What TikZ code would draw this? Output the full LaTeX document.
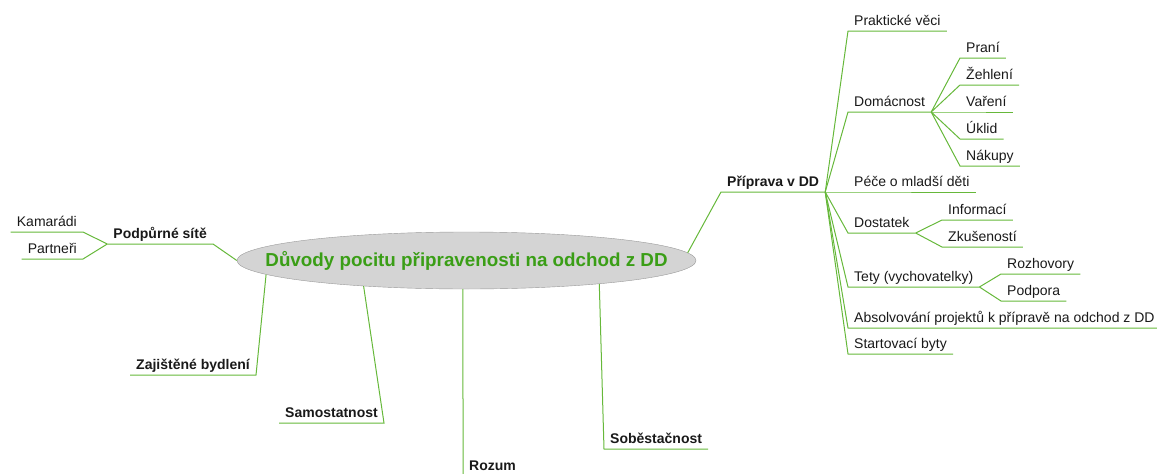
\documentclass[tikz,border=0pt]{standalone}
\usepackage{fontspec}
\setmainfont{Liberation Sans}
\usepackage{tikz}
\usetikzlibrary{positioning,shapes.geometric}
\definecolor{MMgreen}{HTML}{66B83A}
\definecolor{MMtext}{HTML}{3A9E16}
\definecolor{MMgray}{HTML}{D4D4D4}
\tikzset{
  mm/root/.style={draw=black!40, fill=MMgray, ellipse, minimum width=459pt, minimum height=57pt, inner xsep=-39pt, inner ysep=0pt, font=\fontsize{18.8}{22}\selectfont\bfseries, text=MMtext},
  mm/leaf/.style={inner xsep=6pt, inner ysep=5pt, text depth=0pt, font=\fontsize{14}{16}\selectfont, text=black!90},
  mm/main/.style={mm/leaf, font=\fontsize{14}{16}\selectfont\bfseries},
  mm/right/.style={anchor=south west},
  mm/left/.style={anchor=south east},
  mm/line/.style={draw=MMgreen, line width=1pt}
}

\begin{document}
\begin{tikzpicture}[x=1pt, y=-1pt]
\useasboundingbox (0,0) rectangle (1157,474);

\node[mm/root] (root) at (466.5,260.5) {Důvody pocitu připravenosti na odchod z DD};

% Priprava v DD
\node[mm/main, mm/right] (prip) at (721,192) {Příprava v DD};
\node[mm/leaf, mm/right] (prakt) at (848,31) {Praktické věci};
\node[mm/leaf, mm/right] (doma) at (848,112) {Domácnost};
\node[mm/leaf, mm/right] (pece) at (848,192) {Péče o mladší děti};
\node[mm/leaf, mm/right] (dost) at (848,233) {Dostatek};
\node[mm/leaf, mm/right] (tety) at (848,287) {Tety (vychovatelky)};
\node[mm/leaf, mm/right] (absol) at (848,328) {Absolvování projektů k přípravě na odchod z DD};
\node[mm/leaf, mm/right] (start) at (848,354) {Startovací byty};
\draw[mm/line] (root.2) -- (prip.south west) -- (prip.south east);
\draw[mm/line] (prip.south east) -- (prakt.south west) -- (prakt.south east);
\draw[mm/line] (prip.south east) -- (doma.south west) -- (doma.south east);
\draw[mm/line] (prip.south east) -- (pece.south west) -- (pece.south east);
\draw[mm/line] (prip.south east) -- (dost.south west) -- (dost.south east);
\draw[mm/line] (prip.south east) -- (tety.south west) -- (tety.south east);
\draw[mm/line] (prip.south east) -- (absol.south west) -- (absol.south east);
\draw[mm/line] (prip.south east) -- (start.south west) -- (start.south east);

% Domacnost
\node[mm/leaf, mm/right] (prani) at (960,58) {Praní};
\node[mm/leaf, mm/right] (zehl) at (960,85) {Žehlení};
\node[mm/leaf, mm/right] (vare) at (960,112) {Vaření};
\node[mm/leaf, mm/right] (uklid) at (960,139) {Úklid};
\node[mm/leaf, mm/right] (nakup) at (960,166) {Nákupy};
\draw[mm/line] (doma.south east) -- (prani.south west) -- (prani.south east);
\draw[mm/line] (doma.south east) -- (zehl.south west) -- (zehl.south east);
\draw[mm/line] (doma.south east) -- (vare.south west) -- (vare.south east);
\draw[mm/line] (doma.south east) -- (uklid.south west) -- (uklid.south east);
\draw[mm/line] (doma.south east) -- (nakup.south west) -- (nakup.south east);

% Dostatek
\node[mm/leaf, mm/right] (info) at (942,220) {Informací};
\node[mm/leaf, mm/right] (zkus) at (942,247) {Zkušeností};
\draw[mm/line] (dost.south east) -- (info.south west) -- (info.south east);
\draw[mm/line] (dost.south east) -- (zkus.south west) -- (zkus.south east);

% Tety
\node[mm/leaf, mm/right] (rozh) at (1001,274) {Rozhovory};
\node[mm/leaf, mm/right] (podp) at (1001,301) {Podpora};
\draw[mm/line] (tety.south east) -- (rozh.south west) -- (rozh.south east);
\draw[mm/line] (tety.south east) -- (podp.south west) -- (podp.south east);

% Podpurne site
\node[mm/main, mm/left] (site) at (213,244) {Podpůrné sítě};
\node[mm/leaf, mm/left] (kama) at (83,232) {Kamarádi};
\node[mm/leaf, mm/left] (part) at (83,259) {Partneři};
\draw[mm/line] (root.180) -- (site.south east) -- (site.south west);
\draw[mm/line] (site.south west) -- (kama.south east) -- (kama.south west);
\draw[mm/line] (site.south west) -- (part.south east) -- (part.south west);

% bottom branches
\node[mm/main, mm/left] (bydl) at (256,375) {Zajištěné bydlení};
\node[mm/main, mm/left] (samo) at (384,423) {Samostatnost};
\node[mm/main, mm/right] (rozum) at (463,476) {Rozum};
\node[mm/main, mm/right] (sobe) at (604,449) {Soběstačnost};
\draw[mm/line] (root.184) -- (bydl.south east) -- (bydl.south west);
\draw[mm/line] (root.194) -- (samo.south east) -- (samo.south west);
\draw[mm/line] (root.263) -- (rozum.south west) -- (rozum.south east);
\draw[mm/line] (root.-10) -- (sobe.south west) -- (sobe.south east);
\end{tikzpicture}
\end{document}
